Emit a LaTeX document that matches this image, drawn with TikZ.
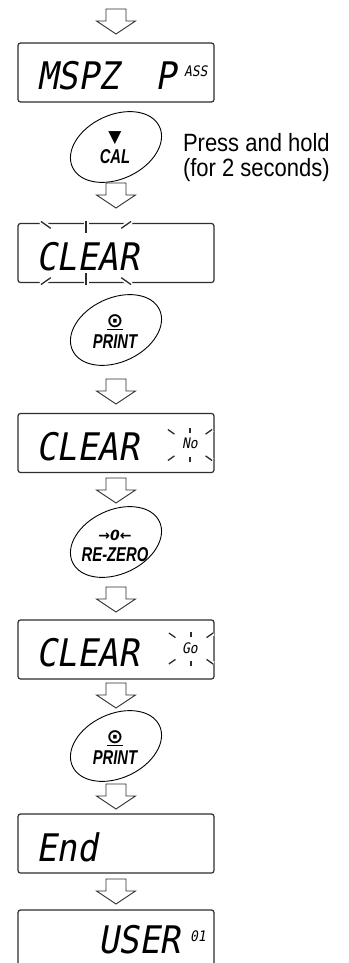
\documentclass[tikz,border=0pt]{standalone}
\usepackage{fontspec}
\setmainfont{Liberation Sans}
\newfontfamily\lcdfont[FakeSlant=0.18,FakeStretch=0.9]{DejaVu Sans Mono}
\newfontfamily\keyfont[FakeStretch=0.74]{Liberation Sans}
\newfontfamily\notefont[FakeStretch=0.88]{Liberation Sans}
\newfontfamily\symfont{DejaVu Sans}
\usepackage{tikz}
\usetikzlibrary{calc, positioning, shapes.geometric}
\definecolor{lcdline}{RGB}{45,45,45}

\begin{document}
\begin{tikzpicture}[x=1pt, y=-1pt,
    every node/.style={inner sep=0pt, outer sep=0pt},
    lcd/.style={draw=lcdline, rounded corners=2.5pt, minimum width=196pt,
                minimum height=59pt, line width=1.2pt},
    key/.style={draw, ellipse, minimum width=96pt, minimum height=64pt,
                line width=0.9pt, rotate=25},
    keylbl/.style={align=center, font=\keyfont\bfseries\itshape\fontsize{20}{21}\selectfont},
    seg/.style={anchor=base west, font=\lcdfont\fontsize{38}{38}\selectfont},
    segsmall/.style={anchor=base west, font=\lcdfont\fontsize{14.5}{15}\selectfont},
    note/.style={align=left, font=\notefont\fontsize{25}{25}\selectfont},
    slot/.style={minimum width=39pt, minimum height=25pt},
    flow/.style={draw=lcdline, line width=0.9pt, line join=miter},
    ray/.style={draw=lcdline, line width=1.3pt, preaction={draw=white, line width=5pt}}
  ]
    \useasboundingbox (0,0) rectangle (348,963);

    % displays
    \node[lcd] (mspz)  at (116,72.5)  {};
    \node[lcd] (clr)   at (116,253)   {};
    \node[lcd] (clrno) at (116,443)   {};
    \node[lcd] (clrgo) at (116,649.5) {};
    \node[lcd] (fin)   at (116,843.5) {};
    \node[lcd] (usr)   at (116,939.5) {};

    \node[seg]      (mspzt)  at (37,90)   {MSPZ};
    \node[seg]      (passp)  at (155,90)  {P};
    \node[segsmall] (passt)  at (184,77)  {ASS};
    \node[seg]      (clrt)   at (36,270)  {CLEAR};
    \node[seg]      (clrnot) at (36,460)  {CLEAR};
    \node[segsmall] (not)    at (182,448) {No};
    \node[seg]      (clrgot) at (36,666)  {CLEAR};
    \node[segsmall] (got)    at (182,653) {Go};
    \node[seg]      (fint)   at (36,861)  {End};
    \node[seg]      (usrt)   at (98,953)  {USER};
    \node[segsmall] (usrn)   at (190,941) {01};

    % keys
    \node[key] (cal)  at (116,147) {};
    \node[key] (prt)  at (116,330) {};
    \node[key] (rez)  at (116,542) {};
    \node[key] (prt2) at (116,746) {};
    \node[keylbl] (calt)  at (115,147.5) {{\symfont\fontsize{17}{17}\selectfont ▼}\\CAL};
    \node[keylbl] (prtt)  at (115,332) {{\symfont\fontsize{20}{20}\selectfont\underline{⊙}}\\[0pt]PRINT};
    \node[keylbl] (rezt)  at (115,546) {{\symfont\fontsize{14}{14}\selectfont →0←}\\RE-ZERO};
    \node[keylbl] (prt2t) at (115,748) {{\symfont\fontsize{20}{20}\selectfont\underline{⊙}}\\[0pt]PRINT};

    \node[note, anchor=north west] (hold) at (183,133) {Press and hold\\(for 2 seconds)};

    % hollow flow arrows
    \foreach \nm/\yy in {a1/21.5, a2/195.5, a3/391.5, a4/490.5,
                         a5/599.5, a6/695.5, a7/796.5, a8/891.5} {
      \node[slot] (\nm) at (116,\yy) {};
      \draw[flow] ($(\nm.north)+(-10,0)$) -- ($(\nm.north)+(10,0)$) -- ++(0,12)
        -- ++(9.5,0) -- (\nm.south) -- ++(-19.5,-13) -- ++(9.5,0) -- cycle;
    }

    % blinking marks
    \coordinate (clrc) at (86,253);
    \coordinate (noc)  at (190,445);
    \coordinate (goc)  at (191,648.5);
    \foreach \ctr/\ri/\ro/\vi/\vo in {clrc/43/55/20/32, noc/19/27/12/17, goc/19/27/12/17} {
      \foreach \ang in {35,145,215,325}
        \draw[ray] ($(\ctr)+(\ang:\ri)$) -- ($(\ctr)+(\ang:\ro)$);
      \foreach \ang in {90,270}
        \draw[ray] ($(\ctr)+(\ang:\vi)$) -- ($(\ctr)+(\ang:\vo)$);
    }
\end{tikzpicture}
\end{document}
